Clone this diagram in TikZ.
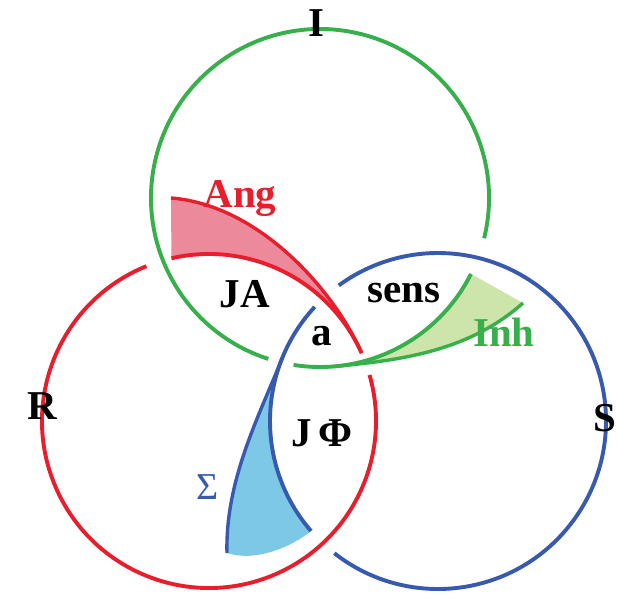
\documentclass[tikz,border=0pt]{standalone}
\usepackage{fontspec}
\setmainfont{Liberation Serif}
\usetikzlibrary{calc}
\definecolor{ringI}{HTML}{37AF4B}
\definecolor{ringR}{HTML}{E81E2D}
\definecolor{ringS}{HTML}{375AAF}
\definecolor{tailI}{HTML}{CDE4AA}
\definecolor{tailR}{HTML}{EC8A9C}
\definecolor{tailS}{HTML}{7DC8E6}
\tikzset{ring/.style={line width=3.9pt},tail/.style={line width=3.4pt},lab/.style={font=\fontsize{41}{41}\selectfont\bfseries,inner sep=0pt},greek/.style={font=\fontsize{38}{38}\selectfont,inner sep=0pt}}

\begin{document}
\begin{tikzpicture}[x=1pt,y=-1pt]
\useasboundingbox (0,0) rectangle (623,597);
\coordinate (cI) at (320,198);
\coordinate (cR) at (209,421);
\coordinate (cS) at (438,421);
% tails (filled crescents)
\fill[tailR] ($(cR)+(-103:167)$) arc[start angle=-103,end angle=-24,radius=167] .. controls (335,292) and (260,205) .. (171,198) -- cycle;
\fill[tailI] ($(cI)+(26.7:169)$) arc[start angle=26.7,end angle=85,radius=169] .. controls (405,360) and (470,350) .. (523,303) -- cycle;
\fill[tailS] ($(cS)+(-158:168)$) .. controls (260,414) and (225,480) .. (227,553) .. controls (255,562) and (290,548) .. ($(cS)+(-220.9:168)$) arc[start angle=-220.9,end angle=-158,radius=168] -- cycle;
% rings, broken where another one passes over
\draw[ring,ringI] ($(cI)+(13.8:169)$) arc[start angle=13.8,end angle=-252.2,radius=169];
\draw[ring,ringI] ($(cI)+(99:169)$) arc[start angle=99,end angle=26.7,radius=169];
\draw[ring,ringR] ($(cR)+(-112:167)$) arc[start angle=-112,end angle=-376,radius=167];
\draw[ring,ringR] ($(cR)+(-103:167)$) arc[start angle=-103,end angle=-24,radius=167];
\draw[ring,ringS] ($(cS)+(128.1:168)$) arc[start angle=128.1,end angle=-126.2,radius=168];
\draw[ring,ringS] ($(cS)+(-137.2:168)$) arc[start angle=-137.2,end angle=-220.9,radius=168];
\draw[tail,ringR] ($(cR)+(-24:167)$) .. controls (335,292) and (260,205) .. (171,198);
\draw[tail,ringI] ($(cI)+(85:169)$) .. controls (405,360) and (470,350) .. (523,303);
\draw[tail,ringS] ($(cS)+(-158:168)$) .. controls (260,414) and (225,480) .. (227,553);
% labels
\node[lab] (lI) at (316,23) {I};
\node[lab] (lR) at (42,406) {R};
\node[lab] (lS) at (605,418) {S};
\node[lab] (lJA) at (245,294) {JA};
\node[lab] (la) at (322,336) {a};
\node[lab] (lJP) at (322,433) {J\,Φ};
\node[lab] (lsens) at (404,293) {sens};
\node[lab,text=ringR] (lAng) at (240,198) {Ang};
\node[lab,text=ringI] (lInh) at (504,332) {Inh};
\node[greek,text=ringS] (lSig) at (208,487) {Σ};
\end{tikzpicture}
\end{document}
